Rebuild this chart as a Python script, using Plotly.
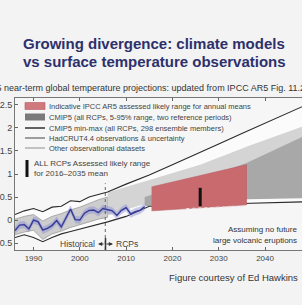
import plotly.graph_objects as go

# ---------------- data ----------------
obs_years = list(range(1986, 2015))
hadcrut = [-0.23, -0.11, -0.10, -0.19, 0.00, -0.04, -0.22, -0.18, -0.12, -0.01,
           -0.15, 0.06, 0.24, 0.01, 0.00, 0.15, 0.21, 0.22, 0.16, 0.25,
           0.22, 0.20, 0.10, 0.21, 0.27, 0.13, 0.18, 0.21, 0.29]
hadcrut_unc = 0.08
other_obs = [-0.20, -0.12, -0.08, -0.20, 0.02, -0.02, -0.20, -0.17, -0.10, 0.01,
             -0.12, 0.05, 0.20, 0.00, 0.01, 0.14, 0.20, 0.20, 0.17, 0.27,
             0.23, 0.22, 0.12, 0.22, 0.28, 0.15, 0.19, 0.22, 0.30]

hist_years = [1986, 1988, 1990, 1992, 1994, 1996, 1998, 2000, 2002, 2004, 2006]
hist_upper = [0.02, 0.08, 0.12, -0.02, 0.08, 0.14, 0.22, 0.28, 0.36, 0.44, 0.50]
hist_lower = [-0.32, -0.26, -0.22, -0.42, -0.30, -0.24, -0.16, -0.10, -0.04, 0.02, 0.06]

minmax_years = [1986, 1988, 1990, 1992, 1994, 1996, 1998, 2000, 2002, 2004, 2006,
                2010, 2015, 2020, 2025, 2030, 2035, 2040, 2045, 2050]
minmax_upper = [0.12, 0.20, 0.25, 0.18, 0.28, 0.30, 0.42, 0.40, 0.50, 0.55, 0.61,
                0.78, 0.98, 1.20, 1.42, 1.65, 1.88, 2.10, 2.33, 2.55]
minmax_lower = [-0.38, -0.32, -0.38, -0.47, -0.38, -0.30, -0.25, -0.20, -0.14, -0.09, -0.04,
                0.08, 0.30, 0.30, 0.31, 0.33, 0.36, 0.38, 0.39, 0.40]

light_years = [2006, 2015, 2026, 2037, 2050]
light_upper = [0.60, 0.87, 1.20, 1.63, 2.10]
light_lower = [0.10, 0.38, 0.42, 0.45, 0.50]

med_years = [2014, 2025, 2036, 2050]
med_upper = [0.50, 0.85, 1.24, 1.90]
med_lower = [0.30, 0.40, 0.45, 0.48]

red_years = [2015.5, 2036]
red_upper = [0.72, 1.20]
red_lower = [0.20, 0.33]
red_dash_years = [2023, 2035.5]
red_dash_vals = [0.25, 0.30]

bar_year = 2026
bar_range = [0.30, 0.70]
split_year = 2005.5

x_ticks = [1990, 2000, 2010, 2020, 2030, 2040]
y_ticks = [-0.5, 0, 0.5, 1, 1.5, 2, 2.5]

legend_labels = [
    "Indicative IPCC AR5 assessed likely range for annual means",
    "CMIP5 (all RCPs, 5-95% range, two reference periods)",
    "CMIP5 min-max (all RCPs, 298 ensemble members)",
    "HadCRUT4.4 observations & uncertainty",
    "Other observational datasets",
]
bar_label = ["ALL RCPs Assessed likely range", "for 2016\u20132035 mean"]

# ---------------- layout helpers ----------------
W, H = 302, 305
L, R, T, B = 15, 0, 98, 55
PW, PH = W - L - R, H - T - B


def px(x):
    return (x - L) / PW


def py(y):
    return (H - B - y) / PH


FONT = "Liberation Sans"
fig = go.Figure()


def band(xs, up, lo, color, line=None):
    fig.add_trace(go.Scatter(x=xs + xs[::-1], y=up + lo[::-1], fill="toself",
                             fillcolor=color, mode="lines",
                             line=dict(width=0.8 if line else 0, color=line or color),
                             hoverinfo="skip", showlegend=False))


# min-max envelope (whitish)
band(minmax_years, minmax_upper, minmax_lower, "#fbfbfb")
# historical 5-95%
band(hist_years, hist_upper, hist_lower, "#cdcdcd", "#9a9a9a")
# projection light & medium gray
band(light_years, light_upper, light_lower, "#d4d4d4")
band(med_years, med_upper, med_lower, "#a8a8a8")
# min-max lines
for ys in (minmax_upper, minmax_lower):
    fig.add_trace(go.Scatter(x=minmax_years, y=ys, mode="lines",
                             line=dict(color="#2a2a2a", width=1.1),
                             hoverinfo="skip", showlegend=False))
# red indicative range
fig.add_trace(go.Scatter(x=[red_years[0], red_years[1], red_years[1], red_years[0]],
                         y=[red_upper[0], red_upper[1], red_lower[1], red_lower[0]],
                         fill="toself", fillcolor="#c96a6f", mode="lines",
                         line=dict(width=0.6, color="#b85a5f"),
                         hoverinfo="skip", showlegend=False))
fig.add_trace(go.Scatter(x=red_dash_years, y=red_dash_vals, mode="lines",
                         line=dict(color="#f4dede", width=1, dash="dot"),
                         hoverinfo="skip", showlegend=False))
# observations
obs_hi = [v + hadcrut_unc for v in hadcrut]
obs_lo = [v - hadcrut_unc for v in hadcrut]
band(obs_years, obs_hi, obs_lo, "rgba(140,140,210,0.45)")
fig.add_trace(go.Scatter(x=obs_years, y=other_obs, mode="lines",
                         line=dict(color="#8a96cf", width=1),
                         hoverinfo="skip", showlegend=False))
fig.add_trace(go.Scatter(x=obs_years, y=hadcrut, mode="lines",
                         line=dict(color="#363b96", width=1.4),
                         hoverinfo="skip", showlegend=False))
# assessed likely range bar
fig.add_trace(go.Scatter(x=[bar_year, bar_year], y=bar_range, mode="lines",
                         line=dict(color="#111111", width=3),
                         hoverinfo="skip", showlegend=False))
# historical / RCP split
fig.add_trace(go.Scatter(x=[split_year, split_year], y=[-0.65, 0.8], mode="lines",
                         line=dict(color="#666666", width=1, dash="dot"),
                         hoverinfo="skip", showlegend=False))

shapes = []
ann = []

# legend symbols
ly = [106, 117, 128, 138, 148]
shapes.append(dict(type="rect", xref="paper", yref="paper", x0=px(25), x1=px(45),
                   y0=py(ly[0] + 3.5), y1=py(ly[0] - 3.5),
                   fillcolor="#d0787c", line=dict(color="#b55a5f", width=0.6)))
shapes.append(dict(type="rect", xref="paper", yref="paper", x0=px(25), x1=px(45),
                   y0=py(ly[1] + 3.5), y1=py(ly[1] - 3.5),
                   fillcolor="#7a7a7a", line=dict(width=0)))
for yy, col, w in [(ly[2], "#222", 1.4), (ly[3], "#444", 1.0), (ly[4], "#777", 0.8)]:
    shapes.append(dict(type="line", xref="paper", yref="paper", x0=px(25), x1=px(45),
                       y0=py(yy), y1=py(yy), line=dict(color=col, width=w)))
shapes.append(dict(type="line", xref="paper", yref="paper", x0=px(27), x1=px(27),
                   y0=py(160), y1=py(177), line=dict(color="#111", width=3)))
for yy, lab in zip(ly, legend_labels):
    ann.append(dict(x=px(47), y=py(yy), xref="paper", yref="paper", text=lab,
                    showarrow=False, xanchor="left", yanchor="middle",
                    font=dict(family=FONT, size=7.5, color="#444")))
for yy, lab in zip([163, 173], bar_label):
    ann.append(dict(x=px(32), y=py(yy), xref="paper", yref="paper", text=lab,
                    showarrow=False, xanchor="left", yanchor="middle",
                    font=dict(family=FONT, size=8, color="#444")))

# title and subtitle
for yy, t in [(44, "Growing divergence: climate models"),
              (62, "vs surface temperature observations")]:
    ann.append(dict(x=px(154), y=py(yy), xref="paper", yref="paper",
                    text="<b>" + t + "</b>", showarrow=False,
                    xanchor="center", yanchor="middle",
                    font=dict(family=FONT, size=15, color="#2e306b")))
ann.append(dict(x=px(-18), y=py(88), xref="paper", yref="paper",
                text="AR5 near-term global temperature projections: updated from IPCC AR5 Fig. 11.25",
                showarrow=False, xanchor="left", yanchor="middle",
                font=dict(family=FONT, size=9, color="#333")))

# historical / RCPs labels
ann.append(dict(x=px(97), y=py(244), xref="paper", yref="paper", text="Historical",
                showarrow=False, xanchor="right", yanchor="middle",
                font=dict(family=FONT, size=8.5, color="#444")))
ann.append(dict(x=px(114), y=py(244), xref="paper", yref="paper", text="RCPs",
                showarrow=False, xanchor="left", yanchor="middle",
                font=dict(family=FONT, size=8.5, color="#444")))
for tx in (98, 113):
    ann.append(dict(x=px(tx), y=py(244), xref="paper", yref="paper", text="",
                    ax=105 - tx, ay=0, axref="pixel", ayref="pixel",
                    showarrow=True, arrowhead=2, arrowsize=0.7, arrowwidth=1.2,
                    arrowcolor="#333"))
shapes.append(dict(type="line", xref="paper", yref="paper", x0=px(105.5), x1=px(105.5),
                   y0=py(238), y1=py(250), line=dict(color="#333", width=1.5)))

# volcanic note
for yy, t in [(229, "Assuming no future"), (240, "large volcanic eruptions")]:
    ann.append(dict(x=px(299), y=py(yy), xref="paper", yref="paper", text=t,
                    showarrow=False, xanchor="right", yanchor="middle",
                    font=dict(family=FONT, size=8, color="#333")))
# credit
ann.append(dict(x=px(233), y=py(277), xref="paper", yref="paper",
                text="Figure courtesy of Ed Hawkins", showarrow=False,
                xanchor="center", yanchor="middle",
                font=dict(family=FONT, size=9.5, color="#333")))

fig.update_layout(
    width=W, height=H,
    margin=dict(l=L, r=R, t=T, b=B, autoexpand=False),
    paper_bgcolor="#f3f3f3", plot_bgcolor="#f6f6f6",
    showlegend=False, shapes=shapes, annotations=ann,
    xaxis=dict(range=[1986, 1986 + PW / 4.63], tickvals=x_ticks,
               ticks="inside", ticklen=3, tickcolor="#666", showgrid=False,
               zeroline=False, showline=True, linecolor="#777", linewidth=1,
               mirror="ticks", tickfont=dict(family=FONT, size=8, color="#444")),
    yaxis=dict(range=[-0.65, 2.65], tickvals=y_ticks,
               ticks="inside", ticklen=3, tickcolor="#666", showgrid=False,
               zeroline=False, showline=True, linecolor="#777", linewidth=1,
               tickfont=dict(family=FONT, size=9, color="#444")),
)

fig.write_html("out.html", config={"displayModeBar": False},
               post_script="document.body.style.margin='0px';")
